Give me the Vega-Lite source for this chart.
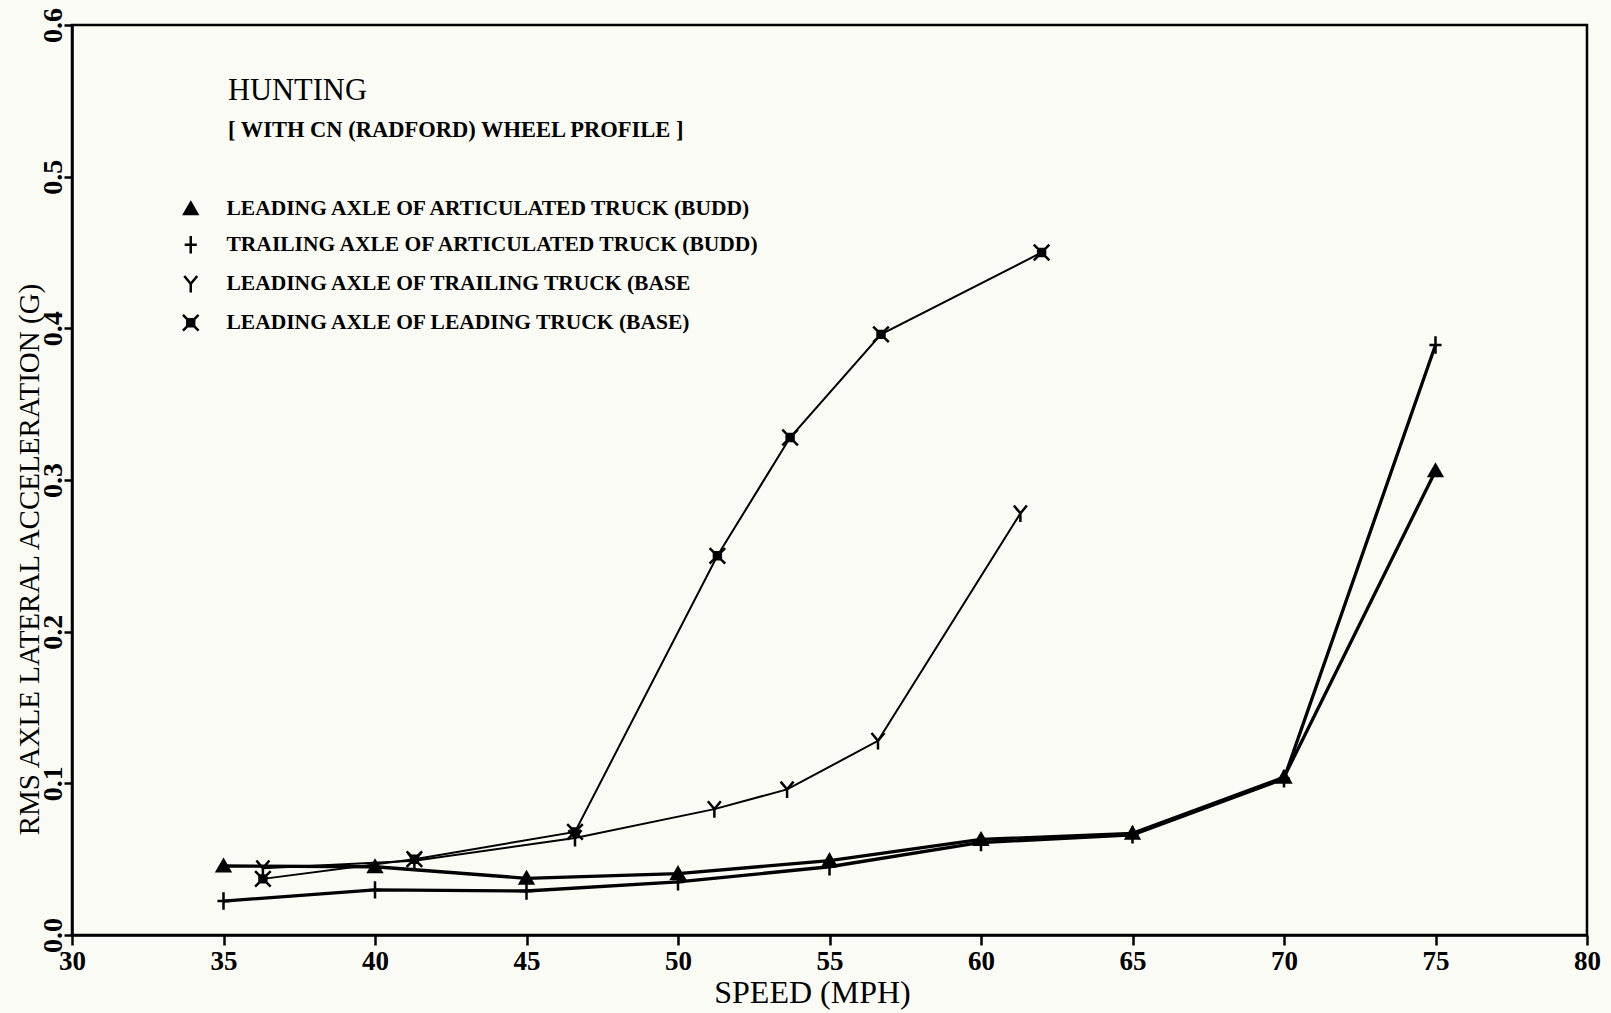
{
  "$schema": "https://vega.github.io/schema/vega-lite/v6.json",
  "width": 1515,
  "height": 910,
  "autosize": {"type": "none"},
  "padding": {"left": 72, "top": 25, "right": 24, "bottom": 78},
  "background": "#fbfbf5",
  "config": {
    "font": "Liberation Serif",
    "view": {"stroke": "black", "strokeWidth": 2.5}
  },
  "title": {
    "text": "HUNTING",
    "subtitle": "[ WITH CN (RADFORD) WHEEL PROFILE ]",
    "anchor": "start",
    "frame": "group",
    "orient": "top",
    "offset": 0,
    "dx": 156,
    "dy": 134,
    "font": "Liberation Serif",
    "fontSize": 30.5,
    "fontWeight": "normal",
    "color": "black",
    "subtitleFont": "Liberation Serif",
    "subtitleFontSize": 22.5,
    "subtitleFontWeight": "bold",
    "subtitleColor": "black",
    "subtitlePadding": 13
  },
  "data": {
    "values": [
      {"series": "LEADING AXLE OF ARTICULATED TRUCK (BUDD)", "group": "BUDD", "speed": 35, "acc": 0.0455},
      {"series": "LEADING AXLE OF ARTICULATED TRUCK (BUDD)", "group": "BUDD", "speed": 40, "acc": 0.045},
      {"series": "LEADING AXLE OF ARTICULATED TRUCK (BUDD)", "group": "BUDD", "speed": 45, "acc": 0.0374},
      {"series": "LEADING AXLE OF ARTICULATED TRUCK (BUDD)", "group": "BUDD", "speed": 50, "acc": 0.0405},
      {"series": "LEADING AXLE OF ARTICULATED TRUCK (BUDD)", "group": "BUDD", "speed": 55, "acc": 0.049},
      {"series": "LEADING AXLE OF ARTICULATED TRUCK (BUDD)", "group": "BUDD", "speed": 60, "acc": 0.063},
      {"series": "LEADING AXLE OF ARTICULATED TRUCK (BUDD)", "group": "BUDD", "speed": 65, "acc": 0.067},
      {"series": "LEADING AXLE OF ARTICULATED TRUCK (BUDD)", "group": "BUDD", "speed": 70, "acc": 0.104},
      {"series": "LEADING AXLE OF ARTICULATED TRUCK (BUDD)", "group": "BUDD", "speed": 75, "acc": 0.306},
      {"series": "TRAILING AXLE OF ARTICULATED TRUCK (BUDD)", "group": "BUDD", "speed": 35, "acc": 0.0224},
      {"series": "TRAILING AXLE OF ARTICULATED TRUCK (BUDD)", "group": "BUDD", "speed": 40, "acc": 0.0297},
      {"series": "TRAILING AXLE OF ARTICULATED TRUCK (BUDD)", "group": "BUDD", "speed": 45, "acc": 0.029},
      {"series": "TRAILING AXLE OF ARTICULATED TRUCK (BUDD)", "group": "BUDD", "speed": 50, "acc": 0.035},
      {"series": "TRAILING AXLE OF ARTICULATED TRUCK (BUDD)", "group": "BUDD", "speed": 55, "acc": 0.045},
      {"series": "TRAILING AXLE OF ARTICULATED TRUCK (BUDD)", "group": "BUDD", "speed": 60, "acc": 0.061},
      {"series": "TRAILING AXLE OF ARTICULATED TRUCK (BUDD)", "group": "BUDD", "speed": 65, "acc": 0.066},
      {"series": "TRAILING AXLE OF ARTICULATED TRUCK (BUDD)", "group": "BUDD", "speed": 70, "acc": 0.103},
      {"series": "TRAILING AXLE OF ARTICULATED TRUCK (BUDD)", "group": "BUDD", "speed": 75, "acc": 0.389},
      {"series": "LEADING AXLE OF TRAILING TRUCK (BASE", "group": "BASE", "speed": 36.3, "acc": 0.044},
      {"series": "LEADING AXLE OF TRAILING TRUCK (BASE", "group": "BASE", "speed": 41.3, "acc": 0.049},
      {"series": "LEADING AXLE OF TRAILING TRUCK (BASE", "group": "BASE", "speed": 46.6, "acc": 0.064},
      {"series": "LEADING AXLE OF TRAILING TRUCK (BASE", "group": "BASE", "speed": 51.2, "acc": 0.083},
      {"series": "LEADING AXLE OF TRAILING TRUCK (BASE", "group": "BASE", "speed": 53.6, "acc": 0.096},
      {"series": "LEADING AXLE OF TRAILING TRUCK (BASE", "group": "BASE", "speed": 56.6, "acc": 0.128},
      {"series": "LEADING AXLE OF TRAILING TRUCK (BASE", "group": "BASE", "speed": 61.3, "acc": 0.278},
      {"series": "LEADING AXLE OF LEADING TRUCK (BASE)", "group": "BASE", "speed": 36.3, "acc": 0.037},
      {"series": "LEADING AXLE OF LEADING TRUCK (BASE)", "group": "BASE", "speed": 41.3, "acc": 0.05},
      {"series": "LEADING AXLE OF LEADING TRUCK (BASE)", "group": "BASE", "speed": 46.6, "acc": 0.068},
      {"series": "LEADING AXLE OF LEADING TRUCK (BASE)", "group": "BASE", "speed": 51.3, "acc": 0.25},
      {"series": "LEADING AXLE OF LEADING TRUCK (BASE)", "group": "BASE", "speed": 53.7, "acc": 0.328},
      {"series": "LEADING AXLE OF LEADING TRUCK (BASE)", "group": "BASE", "speed": 56.7, "acc": 0.396},
      {"series": "LEADING AXLE OF LEADING TRUCK (BASE)", "group": "BASE", "speed": 62.0, "acc": 0.45}
    ]
  },
  "encoding": {
    "x": {
      "field": "speed",
      "type": "quantitative",
      "scale": {"domain": [30, 80], "nice": false, "zero": false},
      "axis": {
        "values": [30, 35, 40, 45, 50, 55, 60, 65, 70, 75, 80],
        "grid": false,
        "title": "SPEED (MPH)",
        "titleFont": "Liberation Serif",
        "titleFontSize": 32,
        "titleFontWeight": "normal",
        "titleColor": "black",
        "titleX": 740,
        "titleY": 57,
        "titleAlign": "center",
        "titleBaseline": "middle",
        "labelFont": "Liberation Serif",
        "labelFontSize": 27,
        "labelFontWeight": "bold",
        "labelColor": "black",
        "labelPadding": 3,
        "labelFlush": false,
        "labelOverlap": false,
        "tickSize": 10,
        "tickWidth": 2.5,
        "tickColor": "black",
        "domainColor": "black",
        "domainWidth": 2.5
      }
    },
    "y": {
      "field": "acc",
      "type": "quantitative",
      "scale": {"domain": [0, 0.6], "nice": false},
      "axis": {
        "values": [0, 0.1, 0.2, 0.3, 0.4, 0.5, 0.6],
        "format": ".1f",
        "grid": false,
        "title": "RMS AXLE LATERAL ACCELERATION (G)",
        "titleFont": "Liberation Serif",
        "titleFontSize": 29,
        "titleFontWeight": "normal",
        "titleColor": "black",
        "titleAngle": 270,
        "titleX": -43,
        "titleY": 534,
        "titleAlign": "center",
        "titleBaseline": "middle",
        "labelFont": "Liberation Serif",
        "labelFontSize": 28,
        "labelFontWeight": "bold",
        "labelColor": "black",
        "labelAngle": 270,
        "labelAlign": "center",
        "labelBaseline": "alphabetic",
        "labelPadding": 3,
        "labelFlush": false,
        "labelOverlap": false,
        "tickSize": 8,
        "tickWidth": 2.5,
        "tickColor": "black",
        "domainColor": "black",
        "domainWidth": 2.5
      }
    }
  },
  "layer": [
    {
      "transform": [{"filter": "datum.group === 'BUDD'"}],
      "mark": {"type": "line", "color": "black", "strokeWidth": 3.3},
      "encoding": {
        "detail": {"field": "series", "type": "nominal"}
      }
    },
    {
      "transform": [{"filter": "datum.group === 'BASE'"}],
      "mark": {"type": "line", "color": "black", "strokeWidth": 2},
      "encoding": {
        "detail": {"field": "series", "type": "nominal"}
      }
    },
    {
      "mark": {"type": "point", "stroke": "black", "strokeWidth": 2.5, "opacity": 1, "size": 300},
      "encoding": {
        "shape": {
          "field": "series",
          "type": "nominal",
          "scale": {
            "domain": ["LEADING AXLE OF ARTICULATED TRUCK (BUDD)", "TRAILING AXLE OF ARTICULATED TRUCK (BUDD)", "LEADING AXLE OF TRAILING TRUCK (BASE", "LEADING AXLE OF LEADING TRUCK (BASE)"],
            "range": ["M0,-0.7L0.75,0.6H-0.75Z", "M-0.7,0H0.7M0,-1V1", "M-0.75,-0.9L0,0L0.75,-0.9M0,0V1", "M-0.9,-0.9L0.9,0.9M-0.9,0.9L0.9,-0.9M-0.4,-0.4H0.4V0.4H-0.4Z"]
          },
          "legend": {
            "orient": "none",
            "legendX": 108,
            "legendY": 173,
            "title": null,
            "padding": 0,
            "labelFont": "Liberation Serif",
            "labelFontSize": 21.5,
            "labelFontWeight": "bold",
            "labelColor": "black",
            "labelLimit": 1000,
            "labelOffset": 25,
            "rowPadding": 11,
            "symbolSize": 300,
            "symbolStrokeWidth": 2.5,
            "symbolStrokeColor": "black",
            "symbolOpacity": 1,
            "encode": {"symbols": {"update": {"stroke": {"value": "black"}, "strokeWidth": {"value": 2.5}, "opacity": {"value": 1}}}}
          }
        },
        "fill": {
          "field": "series",
          "type": "nominal",
          "scale": {
            "domain": ["LEADING AXLE OF ARTICULATED TRUCK (BUDD)", "TRAILING AXLE OF ARTICULATED TRUCK (BUDD)", "LEADING AXLE OF TRAILING TRUCK (BASE", "LEADING AXLE OF LEADING TRUCK (BASE)"],
            "range": ["black", "transparent", "transparent", "black"]
          },
          "legend": {
            "orient": "none",
            "legendX": 108,
            "legendY": 173,
            "title": null,
            "padding": 0,
            "labelFont": "Liberation Serif",
            "labelFontSize": 21.5,
            "labelFontWeight": "bold",
            "labelColor": "black",
            "labelLimit": 1000,
            "labelOffset": 25,
            "rowPadding": 11,
            "symbolSize": 300,
            "symbolStrokeWidth": 2.5,
            "symbolStrokeColor": "black",
            "symbolOpacity": 1,
            "encode": {"symbols": {"update": {"stroke": {"value": "black"}, "strokeWidth": {"value": 2.5}, "opacity": {"value": 1}}}}
          }
        }
      }
    }
  ]
}
